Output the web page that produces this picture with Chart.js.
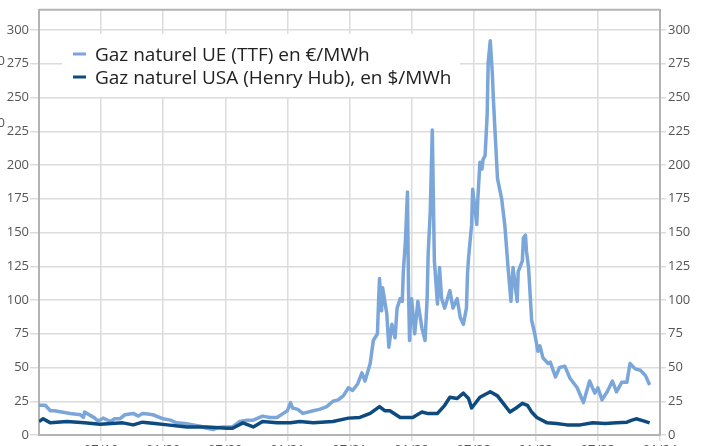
<!DOCTYPE html>
<html>
<head>
<meta charset="utf-8">
<script src="https://cdn.jsdelivr.net/npm/chart.js@4"></script>
<style>
  html, body { margin: 0; padding: 0; background: #fff; overflow: hidden; }
</style>
</head>
<body>
<canvas id="gas" width="702" height="446"></canvas>
<script>
// x values are months counted from 01/2019
const seriesLabels = ['Gaz naturel UE (TTF) en €/MWh', 'Gaz naturel USA (Henry Hub), en $/MWh'];
const seriesColors = ['#7aa6d9', '#0c4a7f'];

const ttfMonths = [0.0, 0.6, 1.1, 1.5, 3.0, 4.0, 4.3, 4.4, 5.4, 5.6, 5.9, 6.2, 6.9, 7.3, 7.8, 8.3, 9.1, 9.6, 10.0, 10.5,
  11.0, 12.0, 12.7, 13.3, 14.1, 14.9, 15.6, 16.2, 16.8, 17.3, 17.8, 18.7, 19.4, 20.1, 20.7, 21.6, 22.3, 23.0, 23.6, 24.0,
  24.3, 24.5, 25.0, 25.5, 26.5, 27.1, 27.8, 28.4, 28.9, 29.4, 29.9, 30.3, 30.8, 31.2, 31.5, 32.0, 32.3, 32.7, 32.8, 32.9,
  33.1, 33.2, 33.6, 33.8, 34.1, 34.4, 34.6, 34.9, 35.1, 35.2, 35.4, 35.6, 35.7, 35.8, 36.0, 36.3, 36.6, 37.0, 37.3, 37.5,
  37.6, 37.8, 38.0, 38.2, 38.5, 38.7, 38.9, 39.2, 39.7, 40.0, 40.4, 40.7, 41.0, 41.3, 41.4, 41.5, 41.8, 41.9, 42.3, 42.4,
  42.6, 42.8, 42.9, 43.1, 43.3, 43.4, 43.6, 43.8, 43.9, 44.1, 44.3, 44.7, 45.0, 45.3, 45.6, 45.8, 46.2, 46.3, 46.7, 46.8,
  47.0, 47.1, 47.3, 47.6, 47.9, 48.2, 48.4, 48.7, 49.2, 49.4, 49.9, 50.3, 50.8, 51.3, 52.0, 52.6, 53.2, 53.7, 54.0, 54.4,
  54.9, 55.4, 55.8, 56.3, 56.8, 57.1, 57.6, 58.1, 58.6, 59.0];
const ttfValues = [22, 22, 18, 18, 16, 15, 13, 17, 12.5, 11, 11, 12.5, 10, 12, 12, 15, 16, 14, 16, 15.5,
  15, 12, 11, 9, 8.5, 7.5, 6.5, 5, 4, 5.5, 6, 6, 10, 11, 11, 14, 13, 13, 16, 18,
  24, 20, 19, 16, 18, 19, 21, 25, 26, 29, 35, 33, 38, 46, 40, 53, 70, 75, 97, 116,
  92, 109, 90, 65, 82, 72, 94, 101, 99, 121, 143, 180, 109, 70, 101, 75, 99, 79, 70, 101,
  134, 165, 226, 129, 97, 124, 101, 94, 107, 94, 101, 87, 82, 94, 119, 131, 156, 182, 156, 175,
  202, 197, 204, 207, 237, 276, 292, 268, 249, 219, 190, 175, 156, 126, 99, 124, 99, 121, 129, 146,
  148, 136, 124, 85, 75, 62, 66, 57, 53, 54, 43, 50, 51, 42, 35, 24, 40, 31, 35, 26,
  32, 40, 32, 39, 39, 53, 49, 48, 44, 37];

const hhMonths = [0.0, 0.4, 1.1, 2.7, 4.4, 5.9, 8.1, 9.1, 10.0, 11.2, 12.4, 14.3, 16.2, 18.2, 18.7, 19.7, 20.7, 21.6, 23.0, 24.3,
  25.2, 26.5, 28.4, 29.9, 31.0, 32.0, 32.9, 33.4, 33.9, 34.9, 36.1, 37.0, 37.5, 38.5, 39.2, 39.7, 40.4, 41.0, 41.5, 41.8,
  42.6, 43.6, 44.3, 44.8, 45.5, 46.1, 46.7, 47.2, 47.6, 48.1, 49.1, 50.0, 51.0, 52.3, 53.5, 54.7, 55.8, 56.8, 57.3, 57.7,
  58.4, 59.0];
const hhValues = [10, 12, 9, 10, 9, 8, 9, 7.5, 9.5, 8.5, 7.5, 6, 6, 5, 5, 9, 6, 10, 9, 9,
  10, 9, 10, 12.5, 13, 16, 21, 18, 18, 13, 13, 17, 16, 16, 22, 28, 27, 31, 27, 20,
  28, 32, 29, 24, 17, 20, 23.5, 22, 17, 13, 9, 8.5, 7.5, 7.5, 9, 8.5, 9, 9.5, 11, 12,
  10.5, 9];

const xTickMonths = [6, 12, 18, 24, 30, 36, 42, 48, 54, 60];
const yTickValues = [0, 25, 50, 75, 100, 125, 150, 175, 200, 225, 250, 275, 300];

function monthLabel(m) {
  const mm = String((m % 12) + 1).padStart(2, '0');
  const yy = String(19 + Math.floor(m / 12)).padStart(2, '0');
  return mm + '/' + yy;
}

const tickFont = { family: 'Open Sans', size: 13 };

const frameAndLegend = {
  id: 'frameAndLegend',
  afterDraw(chart) {
    const ctx = chart.ctx;
    const a = chart.chartArea;
    ctx.save();
    // top frame line
    ctx.strokeStyle = '#b3b3b3';
    ctx.lineWidth = 2;
    ctx.beginPath();
    ctx.moveTo(a.left, a.top);
    ctx.lineTo(a.right, a.top);
    ctx.stroke();

    // legend box
    ctx.fillStyle = '#fff';
    ctx.fillRect(62, 34, 398, 63);
    ctx.font = '19px "Open Sans"';
    ctx.textBaseline = 'alphabetic';
    const rows = [{ y: 61 }, { y: 84 }];
    rows.forEach((r, i) => {
      ctx.strokeStyle = seriesColors[i];
      ctx.lineWidth = 3;
      ctx.beginPath();
      ctx.moveTo(73, r.y - 7);
      ctx.lineTo(86, r.y - 7);
      ctx.stroke();
      ctx.fillStyle = '#222';
      ctx.fillText(seriesLabels[i], 95, r.y);
    });

    // clipped leftovers at the left edge
    ctx.fillStyle = '#555';
    ctx.font = '13px "Open Sans"';
    ctx.textAlign = 'right';
    ctx.textBaseline = 'middle';
    ctx.fillText('0', 5, 61);
    ctx.fillText('0', 5, 123);
    ctx.restore();
  }
};

new Chart(document.getElementById('gas'), {
  type: 'line',
  data: {
    datasets: [
      {
        label: seriesLabels[0],
        data: ttfMonths.map((m, i) => ({ x: m, y: ttfValues[i] })),
        borderColor: seriesColors[0],
        borderWidth: 3.5,
        borderJoinStyle: 'round',
        pointRadius: 0,
        tension: 0,
        order: 2
      },
      {
        label: seriesLabels[1],
        data: hhMonths.map((m, i) => ({ x: m, y: hhValues[i] })),
        borderColor: seriesColors[1],
        borderWidth: 3.5,
        borderJoinStyle: 'round',
        pointRadius: 0,
        tension: 0,
        order: 1
      }
    ]
  },
  options: {
    responsive: false,
    animation: false,
    layout: { padding: { top: 6, left: 0, right: 0, bottom: 0 } },
    plugins: { legend: { display: false }, tooltip: { enabled: false } },
    scales: {
      x: {
        type: 'linear',
        min: 0,
        max: 60,
        afterBuildTicks: s => { s.ticks = xTickMonths.map(v => ({ value: v })); },
        afterFit: s => { s.height = 11; },
        grid: { color: '#dcdcdc', lineWidth: 1.5, tickLength: 6 },
        border: { color: '#b3b3b3', width: 2 },
        ticks: { font: tickFont, color: '#555', padding: 1, maxRotation: 0, callback: v => monthLabel(v) }
      },
      y: {
        position: 'left',
        min: 0,
        max: 315,
        afterBuildTicks: s => { s.ticks = yTickValues.map(v => ({ value: v })); },
        afterFit: s => { s.width = 39; },
        grid: { color: '#dcdcdc', lineWidth: 1.5, tickLength: 9 },
        border: { color: '#b3b3b3', width: 2 },
        ticks: { font: tickFont, color: '#555', padding: 1 }
      },
      y2: {
        position: 'right',
        min: 0,
        max: 315,
        afterBuildTicks: s => { s.ticks = yTickValues.map(v => ({ value: v })); },
        afterFit: s => { s.width = 42; },
        grid: { drawOnChartArea: false, color: '#dcdcdc', lineWidth: 1.5, tickLength: 6 },
        border: { color: '#b3b3b3', width: 2 },
        ticks: { font: tickFont, color: '#555', padding: 2 }
      }
    }
  },
  plugins: [frameAndLegend]
});
</script>
</body>
</html>
